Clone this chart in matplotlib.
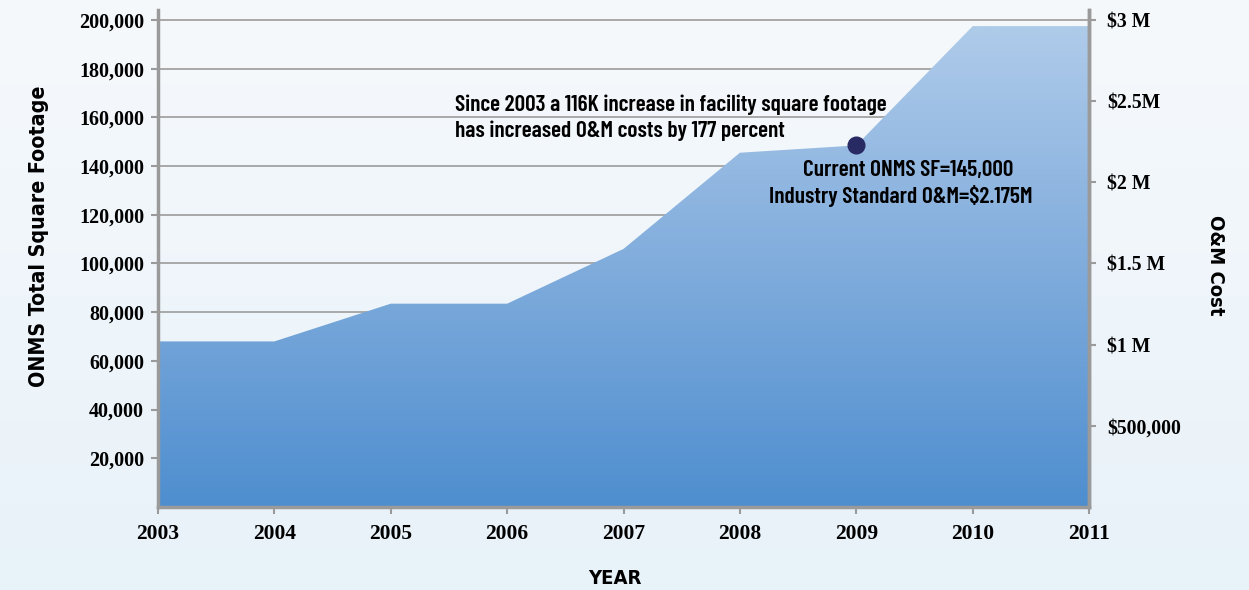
import numpy as np
import matplotlib
matplotlib.use("Agg")
import matplotlib.pyplot as plt
from matplotlib.colors import LinearSegmentedColormap
from matplotlib.ticker import FuncFormatter
from matplotlib import font_manager

# data
years = [2003, 2004, 2005, 2006, 2007, 2008, 2009, 2010, 2011]
square_feet = [68000, 68000, 83500, 83500, 106000, 145500, 148500, 197500, 197500]
left_ticks = [20000, 40000, 60000, 80000, 100000, 120000, 140000, 160000, 180000, 200000]
cost_ticks = [500000, 1000000, 1500000, 2000000, 2500000, 3000000]
cost_labels = ["$500,000", "$1 M", "$1.5 M", "$2 M", "$2.5M", "$3 M"]
marker_year = 2009
marker_sf = 148500

names = {f.name for f in font_manager.fontManager.ttflist}
title_font = dict(family="DejaVu Sans", stretch="condensed", weight="bold")
if "Barlow Condensed" in names:
    note_font = dict(family="Barlow Condensed", weight="semibold")
    note_size = 16.8
else:
    note_font = title_font
    note_size = 14
serif = dict(family="Liberation Serif", weight="bold")

fig = plt.figure(figsize=(12.49, 5.9), dpi=100)

# soft background gradient
bg = fig.add_axes([0, 0, 1, 1], zorder=-10)
bg_cmap = LinearSegmentedColormap.from_list("bg", ["#e8f2f9", "#f6f9fc"])
bg.imshow(np.linspace(0, 1, 256).reshape(-1, 1), aspect="auto", cmap=bg_cmap,
          origin="lower", extent=[0, 1, 0, 1])
bg.axis("off")

ymax = 204100
ax = fig.add_axes([0.1265, 0.1407, 0.7455, 0.8423])
ax.patch.set_alpha(0)
ax.set_xlim(2003, 2011)
ax.set_ylim(0, ymax)

for t in left_ticks:
    ax.axhline(t, color="#a8a8a8", lw=1.4, zorder=1)

# area with vertical gradient
poly = ax.fill_between(years, square_feet, color="none", lw=0, zorder=2)
area_cmap = LinearSegmentedColormap.from_list("area", ["#4e8ecf", "#80acdc", "#afcbea"])
img = ax.imshow(np.linspace(0, 1, 256).reshape(-1, 1), aspect="auto", cmap=area_cmap,
                origin="lower", extent=[2003, 2011, 0, max(square_feet)], zorder=2)
img.set_clip_path(poly.get_paths()[0], transform=ax.transData)

ax.plot([marker_year], [marker_sf], "o", color="#282a64", ms=12, zorder=5)

ax.set_xticks(years)
ax.set_xticklabels([str(y) for y in years], fontsize=15.5, **serif)
ax.set_yticks(left_ticks)
ax.yaxis.set_major_formatter(FuncFormatter(lambda v, p: f"{int(v):,}"))
for lab in ax.get_yticklabels():
    lab.set_fontsize(14.5)
    lab.set_fontfamily("Liberation Serif")
    lab.set_fontweight("bold")
ax.tick_params(axis="both", colors="#9a9a9a", length=5, width=1.5, labelcolor="black")
ax.tick_params(axis="x", pad=7)
ax.tick_params(axis="y", pad=5)

for s in ["left", "bottom", "right"]:
    ax.spines[s].set_color("#9a9a9a")
    ax.spines[s].set_linewidth(2.5)
ax.spines["top"].set_visible(False)

ax2 = ax.twinx()
ax2.set_ylim(0, 3000000 * ymax / 200000)
ax2.set_yticks(cost_ticks)
ax2.set_yticklabels(cost_labels, fontsize=14.2, **serif)
ax2.tick_params(axis="y", colors="#9a9a9a", length=5, width=1.5, labelcolor="black", pad=8)
for s in ["left", "bottom", "top"]:
    ax2.spines[s].set_visible(False)
ax2.spines["right"].set_color("#9a9a9a")
ax2.spines["right"].set_linewidth(2.5)

fig.text(0.031, 0.60, "ONMS Total Square Footage", rotation=90, ha="center", va="center",
         fontsize=15.3, **title_font)
fig.text(0.973, 0.55, "O&M Cost", rotation=-90, ha="center", va="center", fontsize=14.5, **title_font)
fig.text(0.492, 0.02, "YEAR", ha="center", va="center", fontsize=14.5, **title_font)

fig.text(0.364, 0.823, "Since 2003 a 116K increase in facility square footage",
         ha="left", va="center", fontsize=note_size, **note_font)
fig.text(0.364, 0.778, "has increased O&M costs by 177 percent",
         ha="left", va="center", fontsize=note_size, **note_font)
fig.text(0.727, 0.712, "Current ONMS SF=145,000", ha="center", va="center",
         fontsize=note_size, **note_font)
fig.text(0.721, 0.668, "Industry Standard O&M=$2.175M", ha="center", va="center",
         fontsize=note_size, **note_font)

fig.savefig("out.png", dpi=100)
